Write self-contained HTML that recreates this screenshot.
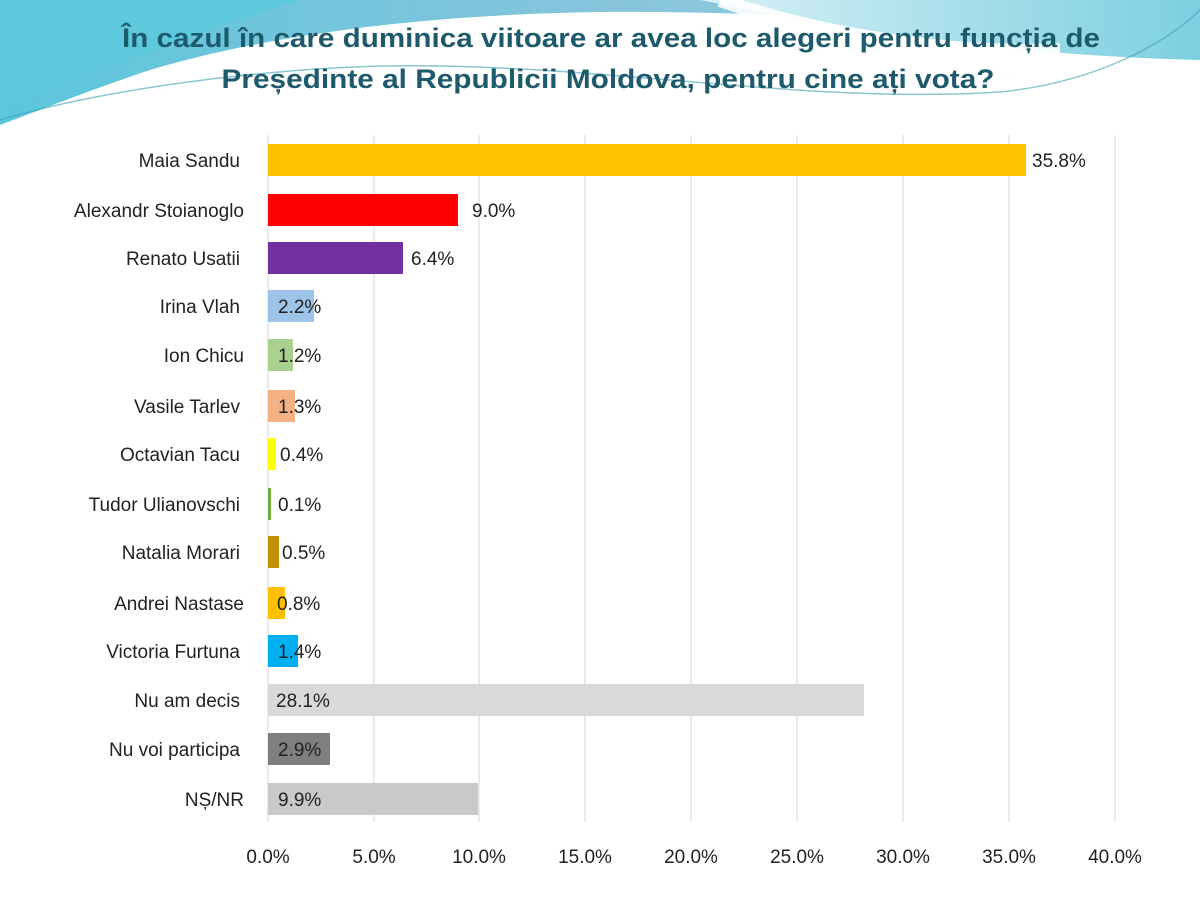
<!DOCTYPE html>
<html><head><meta charset="utf-8"><style>
body{margin:0;width:1200px;height:900px;background:#fff;overflow:hidden;position:relative;font-family:"Liberation Sans",sans-serif}
svg{position:absolute;left:0;top:0}
</style></head><body>
<svg width="1200" height="900" viewBox="0 0 1200 900">
<defs>
<linearGradient id="g1" x1="0" y1="0" x2="1" y2="0"><stop offset="0" stop-color="#5cc6dc"/><stop offset="0.5" stop-color="#86c4dc"/><stop offset="1" stop-color="#9cd6e8"/></linearGradient>
<linearGradient id="g2" x1="0" y1="0" x2="1" y2="0"><stop offset="0" stop-color="#d8f0f6"/><stop offset="1" stop-color="#7ccfe0"/></linearGradient>
</defs>
<path d="M0 0 H1200 V40 C1000 30 800 10 600 12 C400 15 250 40 150 70 C90 90 40 110 0 125 Z" fill="url(#g1)"/>
<path d="M0 0 H300 C200 30 100 70 0 110 Z" fill="#5ec8dc"/>
<path d="M700 0 C850 30 1000 55 1200 60 V0 Z" fill="url(#g2)"/>
<path d="M720 0 C820 35 950 55 1060 50" stroke="#fff" stroke-width="14" fill="none" opacity="0.9"/>
<path d="M0 120 C100 90 250 70 380 66 C600 62 800 105 1000 92 C1100 82 1170 40 1200 10" stroke="#3aa0b0" stroke-width="1.5" fill="none" opacity="0.6"/>
<text x="611" y="47" text-anchor="middle" font-size="27" font-weight="bold" fill="#1d5a6c" textLength="978" lengthAdjust="spacingAndGlyphs">În cazul în care duminica viitoare ar avea loc alegeri pentru funcția de</text>
<text x="608" y="88" text-anchor="middle" font-size="27" font-weight="bold" fill="#1d5a6c" textLength="773" lengthAdjust="spacingAndGlyphs">Președinte al Republicii Moldova, pentru cine ați vota?</text>
<g stroke="#dfe3ea" stroke-width="1.5">
<line x1="268" y1="135" x2="268" y2="822"/><line x1="374" y1="135" x2="374" y2="822"/><line x1="479" y1="135" x2="479" y2="822"/><line x1="585" y1="135" x2="585" y2="822"/><line x1="691" y1="135" x2="691" y2="822"/><line x1="797" y1="135" x2="797" y2="822"/><line x1="903" y1="135" x2="903" y2="822"/><line x1="1009" y1="135" x2="1009" y2="822"/><line x1="1115" y1="135" x2="1115" y2="822"/>
</g>
<g font-size="19" fill="#222">
<g text-anchor="end">
<text x="240" y="167">Maia Sandu</text>
<text x="244" y="217">Alexandr Stoianoglo</text>
<text x="240" y="265">Renato Usatii</text>
<text x="240" y="313">Irina Vlah</text>
<text x="244" y="362">Ion Chicu</text>
<text x="240" y="413">Vasile Tarlev</text>
<text x="240" y="461">Octavian Tacu</text>
<text x="240" y="511">Tudor Ulianovschi</text>
<text x="240" y="559">Natalia Morari</text>
<text x="244" y="610">Andrei Nastase</text>
<text x="240" y="658">Victoria Furtuna</text>
<text x="240" y="707">Nu am decis</text>
<text x="240" y="756">Nu voi participa</text>
<text x="244" y="806">NȘ/NR</text>
</g>
<rect x="268" y="144" width="758" height="32" fill="#ffc000"/><text x="1032" y="167">35.8%</text>
<rect x="268" y="194" width="190" height="32" fill="#ff0000"/><text x="472" y="217">9.0%</text>
<rect x="268" y="242" width="135" height="32" fill="#7030a0"/><text x="411" y="265">6.4%</text>
<rect x="268" y="290" width="46" height="32" fill="#9dc3e6"/><text x="278" y="313">2.2%</text>
<rect x="268" y="339" width="25" height="32" fill="#a9d18e"/><text x="278" y="362">1.2%</text>
<rect x="268" y="390" width="27" height="32" fill="#f4b183"/><text x="278" y="413">1.3%</text>
<rect x="268" y="438" width="8" height="32" fill="#ffff00"/><text x="280" y="461">0.4%</text>
<rect x="268" y="488" width="3" height="32" fill="#70ad47"/><text x="278" y="511">0.1%</text>
<rect x="268" y="536" width="11" height="32" fill="#bf9000"/><text x="282" y="559">0.5%</text>
<rect x="268" y="587" width="17" height="32" fill="#ffc000"/><text x="277" y="610">0.8%</text>
<rect x="268" y="635" width="30" height="32" fill="#00b0f0"/><text x="278" y="658">1.4%</text>
<rect x="268" y="684" width="596" height="32" fill="#d9d9d9"/><text x="276" y="707">28.1%</text>
<rect x="268" y="733" width="62" height="32" fill="#7f7f7f"/><text x="278" y="756">2.9%</text>
<rect x="268" y="783" width="210" height="32" fill="#c9c9c9"/><text x="278" y="806">9.9%</text>
<g text-anchor="middle">
<text x="268" y="863">0.0%</text><text x="374" y="863">5.0%</text><text x="479" y="863">10.0%</text><text x="585" y="863">15.0%</text><text x="691" y="863">20.0%</text><text x="797" y="863">25.0%</text><text x="903" y="863">30.0%</text><text x="1009" y="863">35.0%</text><text x="1115" y="863">40.0%</text>
</g>
</g>
</svg>
</body></html>
